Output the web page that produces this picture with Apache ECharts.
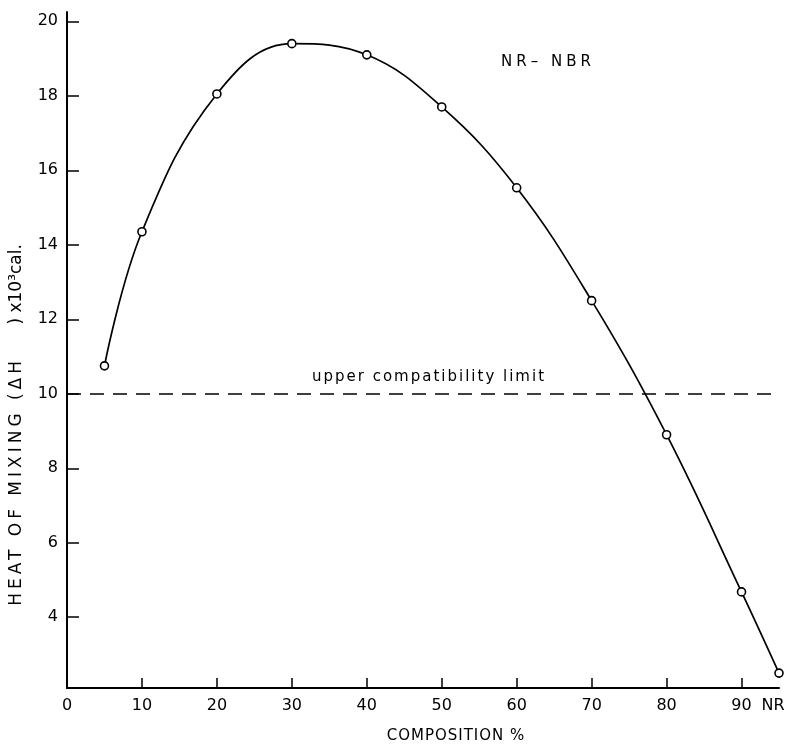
<!DOCTYPE html>
<html>
<head>
<meta charset="utf-8">
<script src="https://cdn.jsdelivr.net/npm/echarts@6/dist/echarts.min.js"></script>
<style>html,body{margin:0;padding:0;background:#fff;}#c{width:785px;height:744px;}</style>
</head>
<body>
<div id="c"></div>
<script>
var composition = [5, 10, 20, 30, 40, 50, 60, 70, 80, 90, 95];
var heatOfMixing = [10.75, 14.35, 18.05, 19.4, 19.1, 17.7, 15.53, 12.5, 8.9, 4.68, 2.5];
var xTickValues = [10, 20, 30, 40, 50, 60, 70, 80, 90];
var xLabelValues = [0, 10, 20, 30, 40, 50, 60, 70, 80, 90, 95];
var yTickValues = [4, 6, 8, 10, 12, 14, 16, 18, 20];
var limitValue = 10;

// letter spacing for the wide, tracked lettering of the original
(function () {
  var P = CanvasRenderingContext2D.prototype;
  if (!('letterSpacing' in P)) return;
  function setLS(ctx) {
    var m = /ls(\d+)/.exec(ctx.font || '');
    ctx.letterSpacing = m ? m[1] + 'px' : '0px';
  }
  var f = P.fillText, s = P.strokeText, mt = P.measureText;
  P.fillText = function () { setLS(this); return f.apply(this, arguments); };
  P.strokeText = function () { setLS(this); return s.apply(this, arguments); };
  P.measureText = function () { setLS(this); return mt.apply(this, arguments); };
})();

function fam(ls) { return '"DejaVu Sans", ls' + ls + ', sans-serif'; }

var chart = echarts.init(document.getElementById('c'), null, {renderer: 'canvas'});
chart.setOption({
  backgroundColor: '#fff',
  animation: false,
  title: {
    text: 'NR\u2013 NBR',
    left: 496, top: 48,
    textStyle: {fontFamily: fam(4), fontSize: 15, fontWeight: 'normal', color: '#000'}
  },
  grid: {left: 67, right: 6, top: 12, bottom: 56, containLabel: false, outerBoundsMode: 'none'},
  xAxis: {
    type: 'value', min: 0, max: 95,
    name: 'COMPOSITION %', nameLocation: 'middle', nameGap: 40,
    nameTextStyle: {fontFamily: fam(1), fontSize: 15, color: '#000', padding: [0, 0, 0, 66]},
    axisLine: {lineStyle: {color: '#000', width: 2}},
    axisTick: {show: true, inside: true, length: 10, customValues: xTickValues, lineStyle: {color: '#000', width: 1.5}},
    axisLabel: {customValues: xLabelValues, margin: 10, fontFamily: fam(0), fontSize: 16, color: '#000',
      formatter: function (v) { return v === 95 ? '{n|NR}' : String(v); },
      rich: {n: {fontFamily: fam(0), fontSize: 16, color: '#000', padding: [0, 12, 0, 0]}}},
    splitLine: {show: false}
  },
  yAxis: {
    type: 'value', min: 2.1, max: 20.25,
    name: '{a|HEAT OF MIXING (\u0394H}{b|      ) x10\u00B3cal.}', nameLocation: 'middle', nameGap: 37, nameRotate: 90,
    nameTextStyle: {color: '#000', padding: [0, 150, 0, 0],
      rich: {
        a: {fontFamily: fam(4), fontSize: 17, color: '#000'},
        b: {fontFamily: fam(0), fontSize: 17, color: '#000'}
      }},
    axisLine: {lineStyle: {color: '#000', width: 2}},
    axisTick: {show: true, inside: true, length: 12, customValues: yTickValues, lineStyle: {color: '#000', width: 1.5}},
    axisLabel: {customValues: yTickValues, margin: 9, fontFamily: fam(0), fontSize: 16, color: '#000'},
    splitLine: {show: false}
  },
  series: [{
    type: 'line',
    data: composition.map(function (x, i) { return [x, heatOfMixing[i]]; }),
    smooth: 0.4,
    symbol: 'circle', symbolSize: 8,
    itemStyle: {color: '#fff', borderColor: '#000', borderWidth: 1.6},
    lineStyle: {color: '#000', width: 1.7},
    markLine: {
      silent: true, symbol: 'none',
      data: [{yAxis: limitValue}],
      lineStyle: {color: '#000', width: 1.5, type: [14, 9]},
      label: {show: true, position: 'insideMiddleTop', formatter: 'upper compatibility limit',
        fontFamily: fam(2), fontSize: 15, color: '#000', distance: 8, padding: [0, 0, 0, 12]}
    }
  }]
});
</script>
</body>
</html>
